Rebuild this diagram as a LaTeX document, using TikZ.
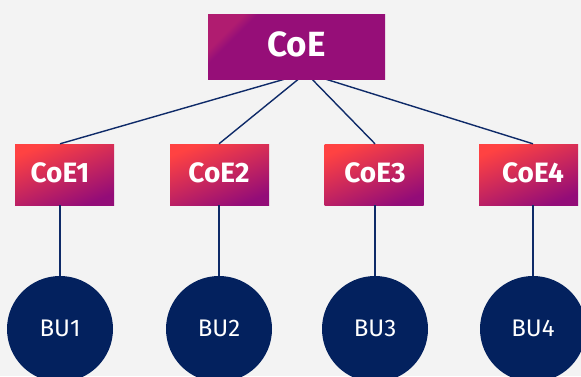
\documentclass[tikz,border=0pt]{standalone}
\usepackage{fontspec}
\setmainfont{Fira Sans}
\definecolor{bg}{HTML}{F3F3F3}
\definecolor{navy}{HTML}{03215E}
\definecolor{lnc}{HTML}{0E2A68}
\definecolor{pur}{HTML}{960E78}
\definecolor{pnk}{HTML}{B01C70}
\definecolor{redc}{HTML}{FF4242}
\definecolor{purc}{HTML}{930C78}
\pgfdeclarehorizontalshading{coeshade}{100bp}{color(0bp)=(redc); color(25bp)=(redc); color(75bp)=(purc); color(100bp)=(purc)}
\pgfdeclarehorizontalshading{topshade}{100bp}{color(0bp)=(pnk); color(25bp)=(pnk); color(29bp)=(pur); color(100bp)=(pur)}
\begin{document}
\begin{tikzpicture}[x=1pt,y=1pt,
  lnk/.style={draw=lnc, line width=1.4pt},
  topbox/.style={rectangle, minimum width=177pt, minimum height=65pt, inner sep=0pt, shading=topshade, shading angle=-45},
  midbox/.style={rectangle, minimum width=99pt, minimum height=61pt, inner sep=0pt, shading=coeshade, shading angle=-68},
  toptxt/.style={text=white, inner sep=0pt, font=\bfseries\fontsize{35}{40}\selectfont},
  boxtxt/.style={text=white, inner sep=0pt, font=\bfseries\fontsize{28}{32}\selectfont},
  butxt/.style={text=white, inner sep=0pt, font=\fontsize{24}{28}\selectfont},
  bu/.style={circle, fill=navy, minimum size=106pt, inner sep=0pt}]
\clip (0,0) rectangle (581,376);
\fill[bg] (0,0) rectangle (581,376);
% circles
\node[bu] (bu1) at (60,47) {};
\node[bu] (bu2) at (219,47) {};
\node[bu] (bu3) at (375,47) {};
\node[bu] (bu4) at (533,47) {};
% boxes
\node[midbox] (b1) at (64.5,201.5) {};
\node[midbox] (b2) at (219.5,201.5) {};
\node[midbox] (b3) at (374,201.5) {};
\node[midbox] (b4) at (528.5,201.5) {};
\coordinate (hub) at (306,303);
% connectors
\draw[lnk] (hub) -- (bu1 |- b1.north);
\draw[lnk] (hub) -- (bu2 |- b2.north);
\draw[lnk] (hub) -- (bu3 |- b3.north);
\draw[lnk] (hub) -- (bu4 |- b4.north);
\draw[lnk] (bu1.north |- b1.south) -- (bu1.north);
\draw[lnk] (bu2.north |- b2.south) -- (bu2.north);
\draw[lnk] (bu3.north |- b3.south) -- (bu3.north);
\draw[lnk] (bu4.north |- b4.south) -- (bu4.north);
% top box over the hub
\node[topbox] (coe) at (296.5,329.5) {};
\node[toptxt] (coet) at (296.5,331.5) {CoE};
\node[boxtxt] (t1) at (60,203) {CoE1};
\node[boxtxt] (t2) at (219,203) {CoE2};
\node[boxtxt] (t3) at (375,203) {CoE3};
\node[boxtxt] (t4) at (533,203) {CoE4};
\node[butxt] (u1) at (60,48) {BU1};
\node[butxt] (u2) at (219,48) {BU2};
\node[butxt] (u3) at (375,48) {BU3};
\node[butxt] (u4) at (533,48) {BU4};
\end{tikzpicture}
\end{document}
